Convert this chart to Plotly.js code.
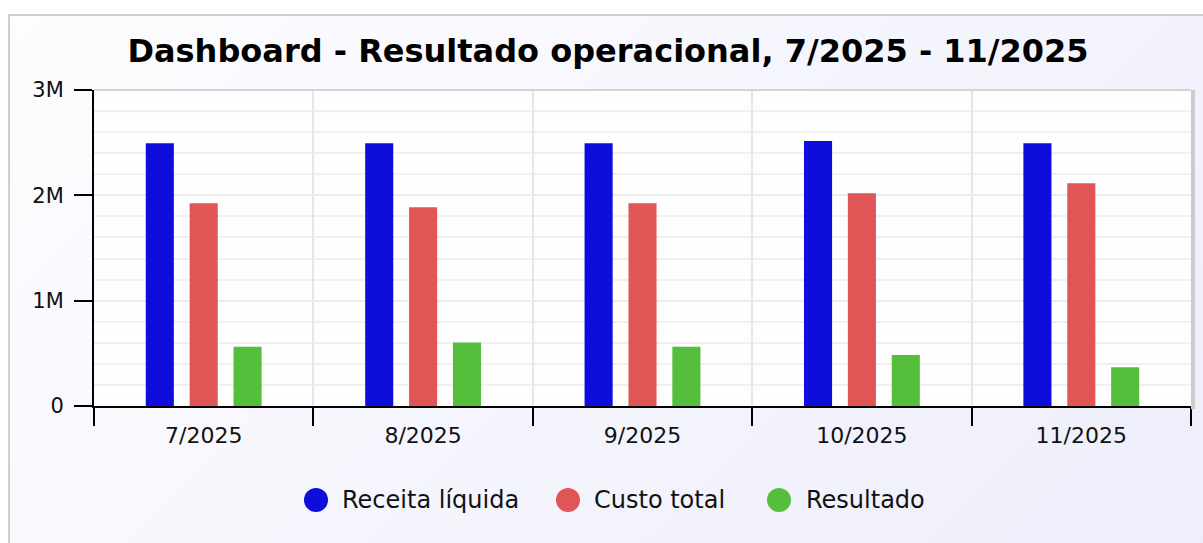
<!DOCTYPE html>
<html>
<head>
<meta charset="utf-8">
<script src="https://cdn.plot.ly/plotly-3.0.1.min.js"></script>
<style>
  html, body { margin: 0; padding: 0; background: #ffffff; overflow: hidden; }
  #frame {
    position: absolute; left: 8px; top: 14px;
    width: 1196px; height: 544px;
    border: 2px solid #cfcfcf;
    background: linear-gradient(135deg, #fdfdff 0%, #f5f5fd 50%, #eeeefb 100%);
  }
  #chart { width: 1196px; height: 544px; }
</style>
</head>
<body>
<div id="frame"><div id="chart"></div></div>
<script>
// ---- data ----
const months = ["7/2025", "8/2025", "9/2025", "10/2025", "11/2025"];
const seriesNames = ["Receita líquida", "Custo total", "Resultado"];
const receita = [2495000, 2495000, 2495000, 2515000, 2495000];
const custo = [1925000, 1887000, 1925000, 2020000, 2115000];
const resultado = [563000, 602000, 563000, 485000, 368000];
const yTickVals = [0, 1000000, 2000000, 3000000];
const yTickText = ["0", "1M", "2M", "3M"];
const colors = ["#0e0edc", "#e05656", "#55bf3b"];

const FONT = "DejaVu Sans, sans-serif";
const seriesValues = [receita, custo, resultado];

const traces = seriesValues.map((vals, i) => ({
  type: "bar",
  name: seriesNames[i],
  x: months,
  y: vals,
  marker: { color: colors[i], line: { width: 0 } },
  showlegend: false,
  hoverinfo: "x+y+name"
}));

// custom legend (big round markers) placed in plot-paper coordinates
const plotW = 1097, plotH = 316;
const legendYpx = 94;                  // px below plot bottom
const legendCircleX = [222, 474, 685]; // px from plot left
const legendTextX = [246, 498, 710];
const shapes = [];
const annotations = [];
for (let i = 0; i < seriesNames.length; i++) {
  shapes.push({
    type: "circle", xref: "paper", yref: "paper",
    xsizemode: "pixel", ysizemode: "pixel",
    xanchor: legendCircleX[i] / plotW, yanchor: -legendYpx / plotH,
    x0: -12, x1: 12, y0: -12, y1: 12,
    fillcolor: colors[i], line: { width: 0 }
  });
  annotations.push({
    xref: "paper", yref: "paper",
    x: legendTextX[i] / plotW, y: -legendYpx / plotH,
    xanchor: "left", yanchor: "middle",
    text: seriesNames[i], showarrow: false,
    font: { family: FONT, size: 24, color: "#111111" }
  });
}
// plot-area frame: light top edge and grey shadow on the right
shapes.push({
  type: "line", xref: "paper", yref: "paper",
  x0: 0, x1: 1, y0: 1, y1: 1,
  line: { color: "#d4d4d4", width: 2 }
});
shapes.push({
  type: "line", xref: "paper", yref: "paper",
  xsizemode: "pixel", xanchor: 1, x0: 2, x1: 2,
  y0: -0.01, y1: 1,
  line: { color: "#cccccc", width: 4 }
});

const layout = {
  width: 1196, height: 544,
  margin: { l: 84, r: 15, t: 74, b: 154 },
  paper_bgcolor: "rgba(0,0,0,0)",
  plot_bgcolor: "#fefefe",
  font: { family: FONT, size: 21, color: "#111111" },
  title: {
    text: "<b>Dashboard - Resultado operacional, 7/2025 - 11/2025</b>",
    font: { family: FONT, size: 32, color: "#000000" },
    x: 0.5, xanchor: "center",
    yref: "container", y: 1 - 35 / 544, yanchor: "middle"
  },
  barmode: "group",
  bargap: 0.4,
  bargroupgap: 0.36,
  showlegend: false,
  xaxis: {
    type: "category",
    tickson: "boundaries",
    ticks: "outside", ticklen: 18, tickwidth: 2, tickcolor: "#000000",
    ticklabelstandoff: 9,
    showline: true, linecolor: "#000000", linewidth: 2,
    showgrid: true, gridcolor: "#e6e6e6", gridwidth: 2,
    tickfont: { family: FONT, size: 22, color: "#111111" },
    fixedrange: true
  },
  yaxis: {
    range: [0, 3000000],
    tickvals: yTickVals, ticktext: yTickText,
    ticks: "outside", ticklen: 18, tickwidth: 2, tickcolor: "#000000",
    ticklabelstandoff: 6,
    showline: true, linecolor: "#000000", linewidth: 2,
    showgrid: true, gridcolor: "#ececec", gridwidth: 2,
    zeroline: false,
    minor: { dtick: 200000, showgrid: true, gridcolor: "#f0f0f0", gridwidth: 2, ticks: "" },
    tickfont: { family: FONT, size: 21, color: "#111111" },
    fixedrange: true
  },
  shapes: shapes,
  annotations: annotations
};

Plotly.newPlot("chart", traces, layout, { displayModeBar: false, staticPlot: true });
</script>
</body>
</html>
